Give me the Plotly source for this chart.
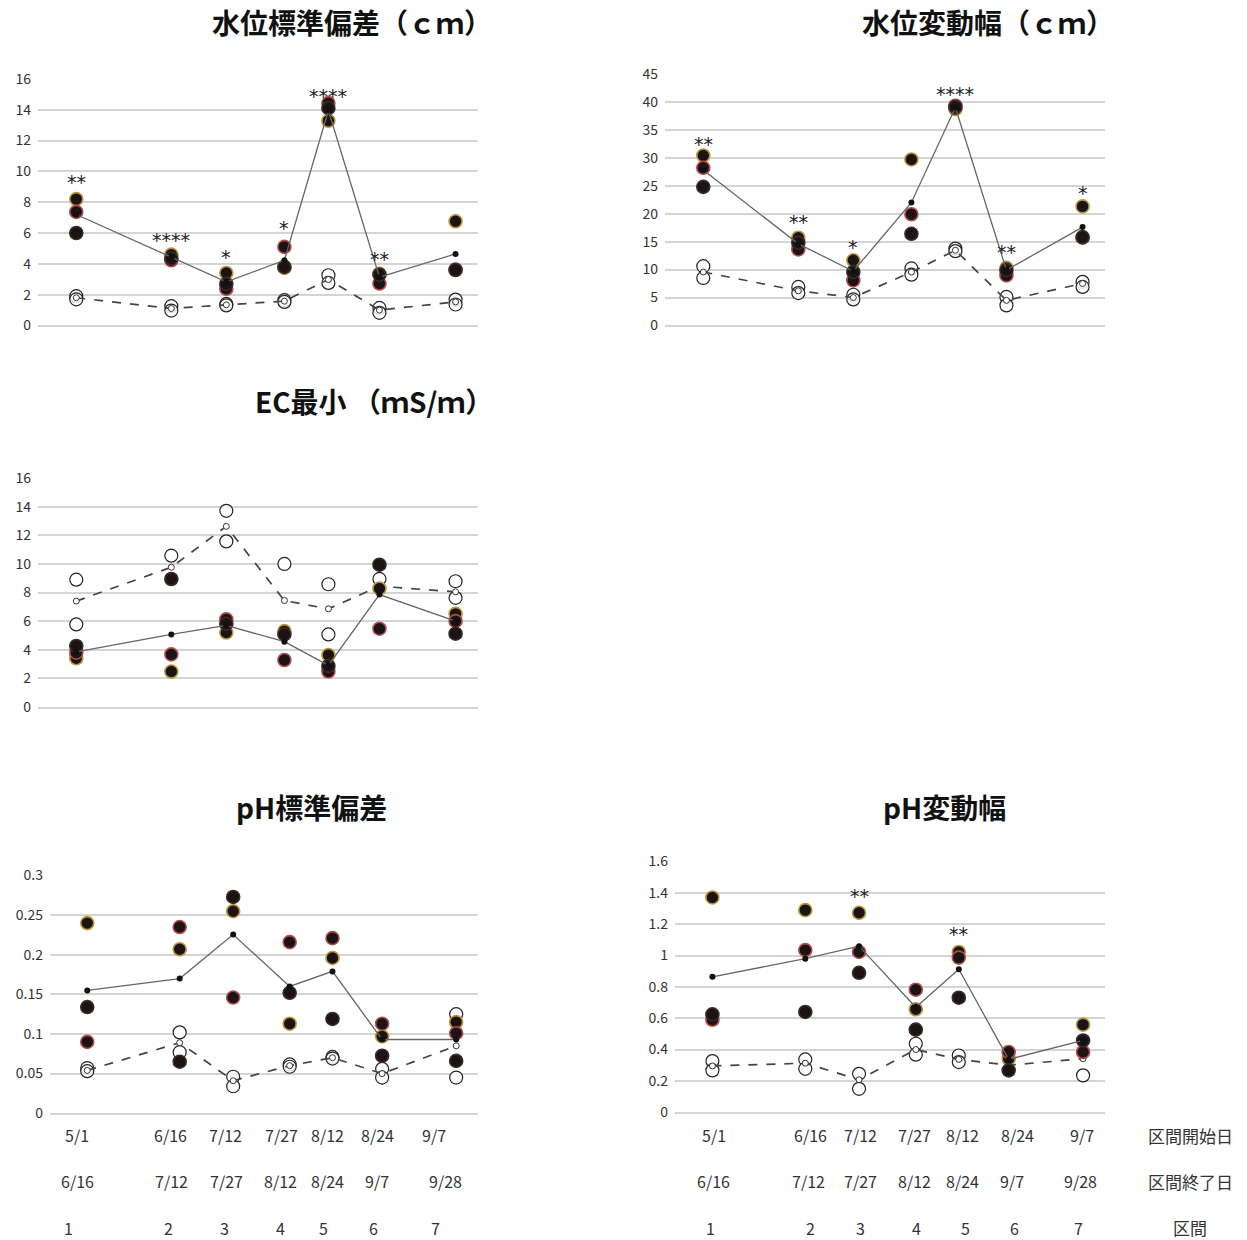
import plotly.graph_objects as go

# Interval positions along the season axis (shared by all panels)
INTERVAL_X = [0.87, 3.03, 4.28, 5.60, 6.60, 7.76, 9.49]
START_DATES = ["5/1", "6/16", "7/12", "7/27", "8/12", "8/24", "9/7"]
END_DATES = ["6/16", "7/12", "7/27", "8/12", "8/24", "9/7", "9/28"]
INTERVAL_NO = ["1", "2", "3", "4", "5", "6", "7"]

# --- 水位標準偏差 (cm)
wl_sd_a = [8.2, 4.6, 3.41, 3.74, 13.28, 3.35, 6.76]
wl_sd_b = [7.37, 4.23, 2.38, 5.1, 14.43, 2.72, 3.63]
wl_sd_c = [6.0, 4.35, 2.7, 3.8, 14.1, 3.3, 3.6]
wl_sd_mean = [7.2, 4.4, 2.83, 4.23, 13.95, 3.13, 4.64]
wl_sd_ref1 = [1.9, 1.25, 1.4, 1.64, 3.26, 1.14, 1.68]
wl_sd_ref2 = [1.7, 0.97, 1.3, 1.53, 2.76, 0.82, 1.36]
wl_sd_ref_mean = [1.8, 1.1, 1.34, 1.58, 2.98, 1.0, 1.53]
wl_sd_sig = ["**", "****", "*", "*", "****", "**", ""]
wl_sd_sig_y = [9.5, 5.75, 4.65, 6.5, 15.1, 4.5, None]

# --- 水位変動幅 (cm)
wl_rg_a = [30.4, 15.7, 11.66, 29.7, 38.7, 10.3, 21.3]
wl_rg_b = [28.2, 13.6, 8.07, 19.9, 39.3, 8.96, 15.7]
wl_rg_c = [24.8, 14.8, 9.56, 16.4, 39.1, 9.9, 15.8]
wl_rg_mean = [27.8, 14.6, 9.7, 22.0, 39.0, 9.9, 17.6]
wl_rg_ref1 = [10.6, 6.9, 5.5, 10.2, 13.75, 5.1, 7.8]
wl_rg_ref2 = [8.5, 5.8, 4.66, 9.1, 13.3, 3.6, 6.9]
wl_rg_ref_mean = [9.56, 6.2, 5.0, 9.56, 13.45, 4.5, 7.5]
wl_rg_sig = ["**", "**", "*", "", "****", "**", "*"]
wl_rg_sig_y = [33.0, 19.0, 14.6, None, 41.9, 13.6, 24.2]

# --- EC最小 (mS/m)
ec_a = [3.4, 2.47, 5.2, 5.3, 3.63, 8.28, 6.51]
ec_b = [3.79, 3.67, 6.12, 3.28, 2.47, 5.47, 6.0]
ec_c = [4.26, 8.95, 5.81, 5.07, 2.86, 9.95, 5.12]
ec_mean = [3.84, 5.07, 5.7, 4.56, 2.9, 7.86, 6.0]
ec_ref1 = [8.9, 10.58, 13.72, 10.0, 8.58, 8.95, 8.79]
ec_ref2 = [5.77, None, 11.58, None, 5.07, None, 7.63]
ec_ref_mean = [7.4, 9.77, 12.63, 7.44, 6.86, 8.44, 8.05]
ec_sig = ["", "", "*", "", "", "", ""]
ec_sig_y = [None, None, 16.4, None, None, None, None]

# --- pH標準偏差
ph_sd_a = [0.24, 0.207, 0.255, 0.113, 0.196, 0.097, 0.115]
ph_sd_b = [0.090, 0.235, 0.146, 0.216, 0.221, 0.113, 0.101]
ph_sd_c = [0.134, 0.065, 0.273, 0.152, 0.119, 0.0725, 0.066]
ph_sd_mean = [0.155, 0.170, 0.2255, 0.16, 0.179, 0.093, 0.093]
ph_sd_ref1 = [0.057, 0.102, 0.046, 0.0615, 0.071, 0.056, 0.125]
ph_sd_ref2 = [0.053, 0.077, 0.034, 0.0586, 0.069, 0.045, 0.045]
ph_sd_ref_mean = [0.054, 0.089, 0.041, 0.06, 0.07, 0.05, 0.085]
ph_sd_sig = ["", "", "*", "", "", "", ""]
ph_sd_sig_y = [None, None, 0.316, None, None, None, None]

# --- pH変動幅
ph_rg_a = [1.371, 1.29, 1.273, 0.657, 1.023, 0.341, 0.559]
ph_rg_b = [0.59, 1.035, 1.023, 0.782, 0.987, 0.384, 0.384]
ph_rg_c = [0.625, 0.64, 0.89, 0.527, 0.731, 0.267, 0.458]
ph_rg_mean = [0.864, 0.98, 1.06, 0.67, 0.913, 0.337, 0.458]
ph_rg_ref1 = [0.326, 0.337, 0.245, 0.437, 0.362, None, 0.235]
ph_rg_ref2 = [0.267, 0.277, 0.149, 0.367, 0.32, None, None]
ph_rg_ref_mean = [0.295, 0.313, 0.207, 0.40, 0.337, 0.30, 0.341]
ph_rg_sig = ["", "", "**", "", "**", "", ""]
ph_rg_sig_y = [None, None, 1.397, None, 1.158, None, None]

W, H = 1247, 1240
FONT = "Noto Sans CJK JP"

# vertical layout grid: pixel rows are spread slightly wider than the page
# so that the panel block sits evenly from top to bottom
Y_TOP, Y_SCALE = 9.0, 0.9855


def px(x):
    return x / W


def py(y):
    return 1 - ((y - Y_TOP) / Y_SCALE) / H


# panel: (title, title centre px, plot box px [x0, x1, ytop, ybottom], y range, dtick, data)
panels = [
    ("水位標準偏差（ｃｍ）", (352, 22), (38, 478, 77, 324), 16, 2,
     (wl_sd_a, wl_sd_b, wl_sd_c, wl_sd_mean, wl_sd_ref1, wl_sd_ref2, wl_sd_ref_mean, wl_sd_sig, wl_sd_sig_y)),
    ("水位変動幅（ｃｍ）", (988, 22), (665, 1105, 72, 324), 45, 5,
     (wl_rg_a, wl_rg_b, wl_rg_c, wl_rg_mean, wl_rg_ref1, wl_rg_ref2, wl_rg_ref_mean, wl_rg_sig, wl_rg_sig_y)),
    ("EC最小 （ｍS/ｍ）", (374, 402), (38, 478, 477, 706), 16, 2,
     (ec_a, ec_b, ec_c, ec_mean, ec_ref1, ec_ref2, ec_ref_mean, ec_sig, ec_sig_y)),
    ("pH標準偏差", (311, 808), (50, 478, 875, 1113), 0.3, 0.05,
     (ph_sd_a, ph_sd_b, ph_sd_c, ph_sd_mean, ph_sd_ref1, ph_sd_ref2, ph_sd_ref_mean, ph_sd_sig, ph_sd_sig_y)),
    ("pH変動幅", (944, 808), (675, 1105, 861, 1112), 1.6, 0.2,
     (ph_rg_a, ph_rg_b, ph_rg_c, ph_rg_mean, ph_rg_ref1, ph_rg_ref2, ph_rg_ref_mean, ph_rg_sig, ph_rg_sig_y)),
]

OUTLINES = ["#b8983c", "#b24c4c", "#3a2a2a"]
GRID = "#d4d4d4"

fig = go.Figure()
annotations = []
layout_axes = {}

for i, (title, tpos, box, ymax, dtick, data) in enumerate(panels, start=1):
    a, b, c, mean, ref1, ref2, ref_mean, sig, sig_y = data
    xa = "x" if i == 1 else f"x{i}"
    ya = "y" if i == 1 else f"y{i}"
    x0, x1, yt, yb = box

    layout_axes["xaxis" if i == 1 else f"xaxis{i}"] = dict(
        domain=[px(x0), px(x1)], range=[0, 10], anchor=ya,
        showgrid=False, zeroline=False, showticklabels=False,
        showline=True, linecolor=GRID, linewidth=1.6, fixedrange=True,
    )
    layout_axes["yaxis" if i == 1 else f"yaxis{i}"] = dict(
        domain=[py(yb), py(yt)], range=[0, ymax], anchor=xa,
        dtick=dtick, tick0=0, showgrid=True, gridcolor=GRID, gridwidth=1.6,
        zeroline=False, showline=False, ticks="",
        tickfont=dict(family=FONT, size=14, color="#333333"),
        ticklabelstandoff=6, fixedrange=True,
    )

    # reference (open circle) observations
    for ref in (ref1, ref2):
        fig.add_trace(go.Scatter(
            x=INTERVAL_X, y=ref, xaxis=xa, yaxis=ya, mode="markers",
            marker=dict(symbol="circle", size=13, color="rgba(255,255,255,0.85)",
                        line=dict(color="#222222", width=1.2)),
            cliponaxis=False, hoverinfo="skip",
        ))
    # reference mean (dashed)
    fig.add_trace(go.Scatter(
        x=INTERVAL_X, y=ref_mean, xaxis=xa, yaxis=ya, mode="lines+markers",
        line=dict(color="#444444", width=1.7, dash="dash"),
        marker=dict(symbol="circle", size=6, color="white",
                    line=dict(color="#333333", width=1)),
        connectgaps=True, cliponaxis=False, hoverinfo="skip",
    ))
    # site observations (filled)
    for vals, oc in zip((a, b, c), OUTLINES):
        fig.add_trace(go.Scatter(
            x=INTERVAL_X, y=vals, xaxis=xa, yaxis=ya, mode="markers",
            marker=dict(symbol="circle", size=13, color="#1c1414",
                        line=dict(color=oc, width=1.6)),
            cliponaxis=False, hoverinfo="skip",
        ))
    # site mean (solid)
    fig.add_trace(go.Scatter(
        x=INTERVAL_X, y=mean, xaxis=xa, yaxis=ya, mode="lines+markers",
        line=dict(color="#666666", width=1.3),
        marker=dict(symbol="circle", size=6, color="#111111"),
        cliponaxis=False, hoverinfo="skip",
    ))

    # significance marks
    for xv, s, sy in zip(INTERVAL_X, sig, sig_y):
        if s and sy is not None:
            annotations.append(dict(
                x=xv, y=sy, xref=xa, yref=ya, text=s, showarrow=False,
                font=dict(family="DejaVu Sans", size=19, color="#222222"),
                xanchor="center", yanchor="middle", yshift=-3,
            ))

    # panel title
    annotations.append(dict(
        x=px(tpos[0]), y=py(tpos[1] - 2), xref="paper", yref="paper",
        text=f"<b>{title}</b>", showarrow=False, xanchor="center", yanchor="middle",
        font=dict(family=FONT, size=28, color="#111111"),
    ))

# interval table under the pH panels
row_y = [1135, 1181, 1228]
left_cols = {
    0: [77, 170, 225, 281, 327, 377, 434],
    1: [77, 171, 226, 280, 327, 377, 445],
    2: [68, 168, 224, 280, 323, 373, 435],
}
right_cols = {
    0: [714, 810, 860, 915, 962, 1017, 1082],
    1: [713, 808, 860, 914, 962, 1012, 1080],
    2: [710, 810, 860, 916, 965, 1014, 1078],
}
rows = [START_DATES, END_DATES, INTERVAL_NO]
row_names = ["区間開始日", "区間終了日", "区間"]
for r, labels in enumerate(rows):
    for cols in (left_cols[r], right_cols[r]):
        for xpix, lab in zip(cols, labels):
            annotations.append(dict(
                x=px(xpix), y=py(row_y[r]), xref="paper", yref="paper",
                text=lab, showarrow=False, xanchor="center", yanchor="middle",
                font=dict(family=FONT, size=16, color="#333333"),
            ))
    annotations.append(dict(
        x=px(1190), y=py(row_y[r]), xref="paper", yref="paper",
        text=row_names[r], showarrow=False, xanchor="center", yanchor="middle",
        font=dict(family=FONT, size=17, color="#333333"),
    ))

fig.update_layout(
    width=W, height=H, margin=dict(l=0, r=0, t=0, b=0),
    paper_bgcolor="white", plot_bgcolor="white",
    showlegend=False, annotations=annotations, **layout_axes,
)

fig.write_html("out.html", config={"displayModeBar": False})
